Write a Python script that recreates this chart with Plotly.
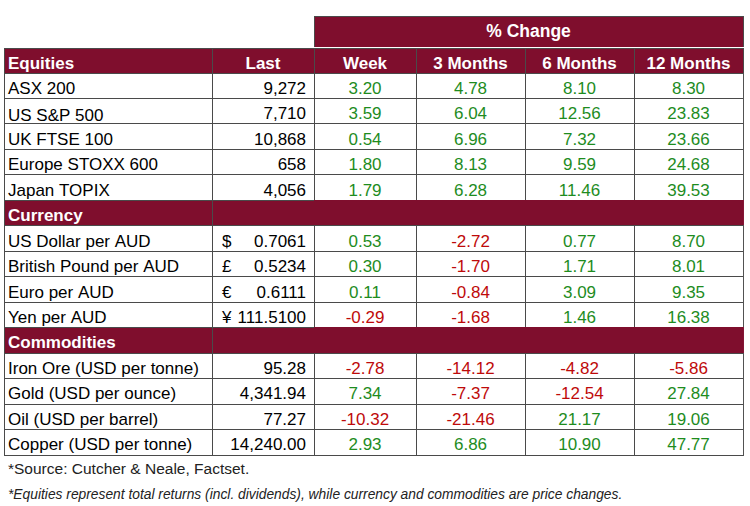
import re
import plotly.graph_objects as go

# ---------------- data ----------------
header_labels = ["Equities", "Last", "Week", "3 Months", "6 Months", "12 Months"]
group_title = "% Change"

equity_names = ["ASX 200", "US S&P 500", "UK FTSE 100", "Europe STOXX 600", "Japan TOPIX"]
equity_last = [9272, 7710, 10868, 658, 4056]
equity_week = [3.20, 3.59, 0.54, 1.80, 1.79]
equity_3m = [4.78, 6.04, 6.96, 8.13, 6.28]
equity_6m = [8.10, 12.56, 7.32, 9.59, 11.46]
equity_12m = [8.30, 23.83, 23.66, 24.68, 39.53]

currency_names = ["US Dollar per AUD", "British Pound per AUD", "Euro per AUD", "Yen per AUD"]
currency_symbols = ["$", "£", "€", "¥"]
currency_last = [0.7061, 0.5234, 0.6111, 111.5100]
currency_week = [0.53, 0.30, 0.11, -0.29]
currency_3m = [-2.72, -1.70, -0.84, -1.68]
currency_6m = [0.77, 1.71, 3.09, 1.46]
currency_12m = [8.70, 8.01, 9.35, 16.38]

commodity_names = ["Iron Ore (USD per tonne)", "Gold (USD per ounce)",
                   "Oil (USD per barrel)", "Copper (USD per tonne)"]
commodity_last = [95.28, 4341.94, 77.27, 14240.00]
commodity_week = [-2.78, 7.34, -10.32, 2.93]
commodity_3m = [-14.12, -7.37, -21.46, 6.86]
commodity_6m = [-4.82, -12.54, 21.17, 10.90]
commodity_12m = [-5.86, 27.84, 19.06, 47.77]

section_titles = ["Currency", "Commodities"]
footnote_source = "*Source: Cutcher & Neale, Factset."
footnote_returns = ("*Equities represent total returns (incl. dividends), while currency "
                    "and commodities are price changes.")

# ---------------- styling ----------------
MAROON = "#7F0E2D"
GREEN = "#1E8C1E"
RED = "#BE0A0A"
GRID = "#4A4A4A"
CLEAR = "rgba(0,0,0,0)"
FONT = "Liberation Sans, Arial, sans-serif"
W, H = 750, 506
X0, X1 = 4, 743
COLW = [208, 102, 102, 109, 109, 109]
TOP_GROUP, TOP_HEAD = 16, 48
HEAD_H, ROW_H = 25, 25.47
FS = 17
NB = "\u00a0"


def nb(s):
    # non-breaking spaces keep every cell on a single line
    return s.replace(" ", NB)


def has_markup(s):
    return re.search(r"[<&>]", s) is not None


# ---------------- build rows ----------------
rows = []  # (kind, name, last_text, symbol, [week, 3m, 6m, 12m])
for i, n in enumerate(equity_names):
    rows.append(("data", n, f"{equity_last[i]:,}", "",
                 [equity_week[i], equity_3m[i], equity_6m[i], equity_12m[i]]))
rows.append(("section", section_titles[0], "", "", [None] * 4))
for i, n in enumerate(currency_names):
    rows.append(("data", n, f"{currency_last[i]:.4f}", currency_symbols[i],
                 [currency_week[i], currency_3m[i], currency_6m[i], currency_12m[i]]))
rows.append(("section", section_titles[1], "", "", [None] * 4))
for i, n in enumerate(commodity_names):
    rows.append(("data", n, f"{commodity_last[i]:,.2f}", "",
                 [commodity_week[i], commodity_3m[i], commodity_6m[i], commodity_12m[i]]))

ncol = 6
values = [[] for _ in range(ncol)]
fills = [[] for _ in range(ncol)]
fcolors = [[] for _ in range(ncol)]
lcolors = [[] for _ in range(ncol)]
lab_names, lab_titles, lab_amp, lab_symbols = [], [], [], []
for kind, name, last, sym, chg in rows:
    lab_symbols.append(sym)
    for c in range(ncol):
        values[c].append("")
    if kind == "section":
        lab_titles.append(name)
        lab_names.append("")
        lab_amp.append("")
        for c in range(ncol):
            fills[c].append(MAROON)
            fcolors[c].append("white")
            lcolors[c].append(GRID if c <= 1 else MAROON)
    else:
        lab_titles.append("")
        if has_markup(name):
            # names with '&' go in their own layer so that no grid row grows
            lab_amp.append(nb(name).replace("&", "&amp;"))
            lab_names.append("")
        else:
            lab_amp.append("")
            lab_names.append(nb(name))
        values[1][-1] = last
        for k, v in enumerate(chg):
            values[2 + k][-1] = f"{v:.2f}"
        for c in range(ncol):
            fills[c].append("white")
            lcolors[c].append(GRID)
        fcolors[0].append("black")
        fcolors[1].append("black")
        for k, v in enumerate(chg):
            fcolors[2 + k].append(GREEN if v >= 0 else RED)

main_top = 1 - TOP_HEAD / H
group_top = 1 - TOP_GROUP / H

fig = go.Figure()

# group header "% Change"
fig.add_trace(go.Table(
    domain=dict(x=[314 / W, X1 / W], y=[main_top, group_top]),
    columnwidth=[1],
    header=dict(values=[nb(group_title)], fill_color=MAROON,
                line=dict(color=GRID, width=1), align="center",
                font=dict(family=FONT, size=FS + 0.5, color="white", weight="bold"),
                height=TOP_HEAD - TOP_GROUP),
    cells=dict(values=[[""]], fill_color=CLEAR,
               line=dict(color=CLEAR, width=0), height=1),
))

# main grid table
fig.add_trace(go.Table(
    domain=dict(x=[X0 / W, X1 / W], y=[0.0, main_top]),
    columnwidth=COLW,
    header=dict(values=[""] + [nb(h) for h in header_labels[1:]], fill_color=MAROON,
                line=dict(color=GRID, width=1),
                align=["left", "center", "center", "center", "center", "center"],
                font=dict(family=FONT, size=FS, color="white", weight="bold"),
                height=HEAD_H),
    cells=dict(values=values, fill_color=fills,
               line=dict(color=lcolors, width=1),
               align=["left", "right", "center", "center", "center", "center"],
               font=dict(family=FONT, size=FS, color=fcolors),
               height=ROW_H),
))


def label_layer(x_left, first_w, head, col, color, weight):
    # transparent text layer spanning to the table's right edge
    empty = [""] * len(col)
    return go.Table(
        domain=dict(x=[x_left / W, X1 / W], y=[0.0, main_top]),
        columnwidth=[first_w, X1 - x_left - first_w],
        header=dict(values=[head, ""], fill_color=CLEAR, align="left",
                    line=dict(color=CLEAR, width=0), height=HEAD_H,
                    font=dict(family=FONT, size=FS, color="white", weight="bold")),
        cells=dict(values=[col, empty], fill_color=CLEAR,
                   line=dict(color=CLEAR, width=0), align="left",
                   font=dict(family=FONT, size=FS, color=color, weight=weight),
                   height=ROW_H),
    )


fig.add_trace(label_layer(0, 212, nb(header_labels[0]), lab_names, "black", "normal"))
fig.add_trace(label_layer(0, 212, "", lab_titles, "white", "bold"))
fig.add_trace(label_layer(0, 212, "", lab_amp, "black", "normal"))
fig.add_trace(label_layer(214, 100, "", lab_symbols, "black", "normal"))

fig.update_layout(
    width=W, height=H, margin=dict(l=0, r=0, t=0, b=0),
    paper_bgcolor="white", plot_bgcolor="white",
    annotations=[
        dict(text=footnote_source, xref="paper", yref="paper", x=6 / W, y=1 - 468 / H,
             xanchor="left", yanchor="middle", showarrow=False,
             font=dict(family=FONT, size=15.5, color="#222222")),
        dict(text=f"<i>{footnote_returns}</i>", xref="paper", yref="paper",
             x=6 / W, y=1 - 494 / H, xanchor="left", yanchor="middle", showarrow=False,
             font=dict(family=FONT, size=13.8, color="#222222")),
    ],
)

fig.write_html("out.html", config={"displayModeBar": False},
               post_script="document.body.style.margin='0px';")
